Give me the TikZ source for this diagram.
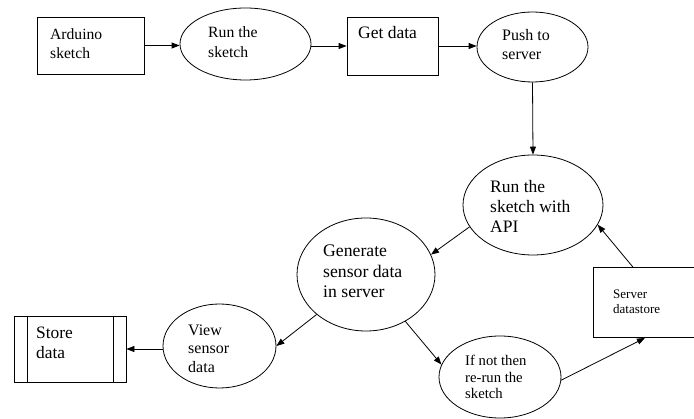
\documentclass[tikz,border=0pt]{standalone}
\usepackage{fontspec}
\setmainfont{Liberation Serif}
\usetikzlibrary{shapes.geometric,arrows.meta,calc}
\tikzset{
  box/.style={draw,rectangle,inner sep=0pt,line width=0.8pt},
  oval/.style={draw,ellipse,inner sep=0pt,line width=0.8pt},
  txt/.style={anchor=north west,inner sep=0pt,align=left},
  flow/.style={line width=0.8pt,-{Triangle[length=8pt,width=6pt]}}
}
\newcommand{\fsz}[2]{\fontsize{#1pt}{#2pt}\selectfont}
\begin{document}
\begin{tikzpicture}[x=1pt,y=-1pt]
\useasboundingbox (0,0) rectangle (694,419);
% shapes
\node[box,minimum width=107pt,minimum height=57pt] (ard) at (90.5,45.5) {};
\node[oval,minimum width=131pt,minimum height=72pt] (run) at (245.5,44) {};
\node[box,minimum width=91pt,minimum height=58pt] (get) at (392.5,46) {};
\node[oval,minimum width=111pt,minimum height=70pt] (push) at (532.5,47) {};
\node[oval,minimum width=140pt,minimum height=100pt] (api) at (533,205) {};
\node[oval,minimum width=138pt,minimum height=113pt] (gen) at (366,274.5) {};
\node[oval,minimum width=113pt,minimum height=84pt] (view) at (219.5,346) {};
\node[box,minimum width=112pt,minimum height=66pt] (store) at (70,349) {};
\draw[line width=0.8pt] ($(store.north west)+(14,0)$) -- ($(store.south west)+(14,0)$);
\draw[line width=0.8pt] ($(store.north east)+(-13,0)$) -- ($(store.south east)+(-13,0)$);
\node[oval,minimum width=122pt,minimum height=82pt] (ifnot) at (500,377) {};
\node[box,minimum width=104pt,minimum height=70pt] (server) at (645,302.5) {};
% texts
\node[txt,font={\fsz{15.6}{19}}] (t1) at (50,25.7) {\strut Arduino\\sketch};
\node[txt,font={\fsz{15.7}{19.5}}] (t2) at (208,23.9) {\strut Run the\\sketch};
\node[txt,font={\fsz{17.5}{20}}] (t3) at (358,24) {\strut Get data};
\node[txt,font={\fsz{16}{19}}] (t4) at (502,26.7) {\strut Push to\\server};
\node[txt,font={\fsz{17.5}{20}}] (t5) at (490,178) {\strut Run the\\sketch with\\API};
\node[txt,font={\fsz{17.7}{20.3}}] (t6) at (323,242.5) {\strut Generate\\sensor data\\in server};
\node[txt,font={\fsz{16}{18.5}}] (t7) at (188,322) {\strut View\\sensor\\data};
\node[txt,font={\fsz{17.4}{20}}] (t8) at (36,324) {\strut Store\\data};
\node[txt,font={\fsz{14.7}{16.5}}] (t9) at (465,353.8) {\strut If not then\\re-run the\\sketch};
\node[txt,font={\fsz{13}{15}}] (t10) at (613,287.5) {\strut Server\\datastore};
% connectors
\draw[flow] (ard.east) -- (ard.east -| run.west);
\draw[flow] (get.west -| run.east) -- (get.west);
\draw[flow] (get.east) -- (get.east -| push.west);
\draw[flow] (push.south) -- (api.north);
\draw[flow] (api.199) -- (gen.17);
\draw[flow] (gen.219) -- (view.east);
\draw[flow] (store.east -| view.west) -- (store.east);
\draw[flow] (gen.310) -- (ifnot.168);
\draw[flow] (ifnot.357) -- (server.south);
\draw[flow] ($(server.north west)!0.385!(server.north east)$) -- (api.343);
\end{tikzpicture}
\end{document}
